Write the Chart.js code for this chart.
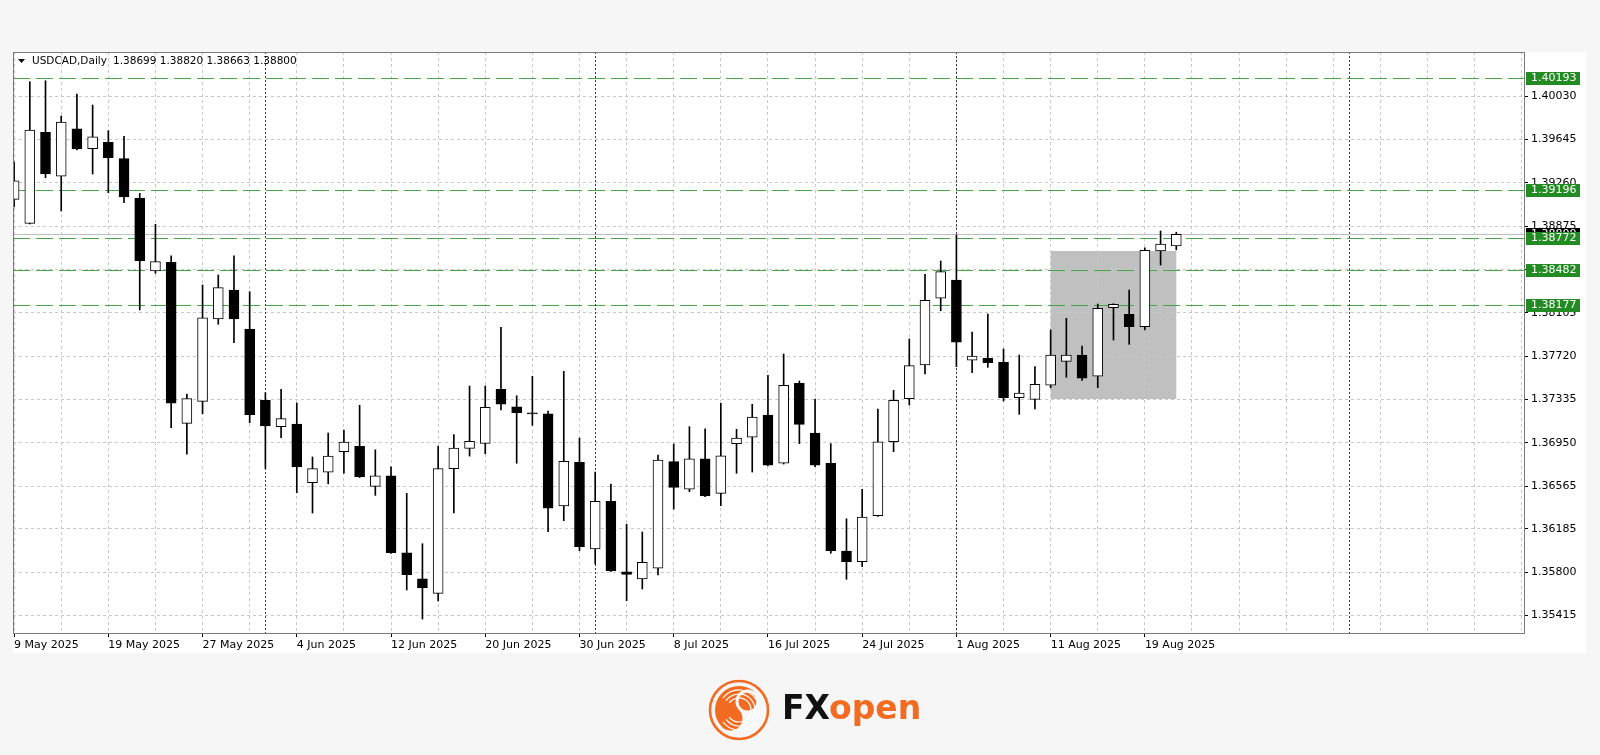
<!DOCTYPE html>
<html><head><meta charset="utf-8">
<script src="https://cdn.jsdelivr.net/npm/chart.js@4.4.1/dist/chart.umd.min.js"></script>
<style>html,body{margin:0;padding:0;background:#f6f6f6;}canvas{display:block}</style>
</head><body>
<canvas id="c" width="1600" height="755"></canvas>
<script>
const symbol = 'USDCAD,Daily';
const opens  = [1.39112,1.38899,1.39707,1.39317,1.39739,1.39562,1.39619,1.39473,1.39124,1.38475,
                1.38552,1.37122,1.37317,1.38049,1.38306,1.37960,1.37326,1.37092,1.37116,1.36594,
                1.36687,1.36870,1.36918,1.36562,1.36656,1.35972,1.35741,1.35611,1.36719,1.36900,
                1.36944,1.37424,1.37269,1.37212,1.37207,1.36387,1.36776,1.36005,1.36429,1.35803,
                1.35739,1.35834,1.36781,1.36536,1.36807,1.36500,1.36941,1.36998,1.37196,1.36767,
                1.37477,1.37036,1.36767,1.35987,1.35892,1.36301,1.36958,1.37341,1.37640,1.38233,
                1.38395,1.37682,1.37699,1.37664,1.37349,1.37335,1.37460,1.37673,1.37729,1.37540,
                1.38149,1.38090,1.37980,1.38653,1.38699];
const highs  = [1.39444,1.40157,1.40166,1.39852,1.40048,1.39950,1.39722,1.39672,1.39165,1.38890,
                1.38611,1.37382,1.38351,1.38440,1.38611,1.38291,1.37394,1.37424,1.37302,1.36823,
                1.37036,1.37062,1.37282,1.36887,1.36736,1.36500,1.36052,1.36920,1.37021,1.37453,
                1.37453,1.37975,1.37367,1.37540,1.37231,1.37584,1.36991,1.36689,1.36583,1.36225,
                1.36156,1.36840,1.36938,1.37092,1.37074,1.37300,1.37069,1.37291,1.37548,1.37738,
                1.37498,1.37338,1.36941,1.36274,1.36536,1.37249,1.37415,1.37871,1.38446,1.38564,
                1.38795,1.37933,1.38093,1.37782,1.37729,1.37627,1.37951,1.38055,1.37809,1.38182,
                1.38185,1.38306,1.38682,1.38831,1.38820];
const lows   = [1.39046,1.38893,1.39304,1.39008,1.39550,1.39337,1.39171,1.39082,1.38129,1.38455,
                1.37083,1.36847,1.37207,1.38002,1.37838,1.37127,1.36722,1.36994,1.36505,1.36325,
                1.36585,1.36678,1.36640,1.36482,1.35965,1.35641,1.35383,1.35543,1.36325,1.36831,
                1.36852,1.37240,1.36767,1.37104,1.36159,1.36257,1.35990,1.35872,1.35805,1.35546,
                1.35650,1.35774,1.36360,1.36514,1.36470,1.36390,1.36678,1.36689,1.36745,1.36760,
                1.36941,1.36736,1.35967,1.35736,1.35848,1.36295,1.36870,1.37285,1.37560,1.38122,
                1.37625,1.37572,1.37619,1.37320,1.37202,1.37249,1.37438,1.37531,1.37504,1.37438,
                1.37862,1.37824,1.37951,1.38528,1.38663];
const closes = [1.39277,1.39728,1.39337,1.39799,1.39559,1.39668,1.39482,1.39133,1.38567,1.38558,
                1.37302,1.37341,1.38060,1.38327,1.38049,1.37198,1.37098,1.37163,1.36734,1.36719,
                1.36831,1.36956,1.36648,1.36656,1.35972,1.35777,1.35659,1.36719,1.36903,1.36962,
                1.37264,1.37293,1.37216,1.37206,1.36367,1.36784,1.36026,1.36429,1.35812,1.35780,
                1.35887,1.36796,1.36553,1.36807,1.36476,1.36834,1.36991,1.37178,1.36751,1.37460,
                1.37113,1.36751,1.35990,1.35892,1.36289,1.36958,1.37326,1.37634,1.38215,1.38469,
                1.37844,1.37720,1.37660,1.37349,1.37391,1.37468,1.37729,1.37729,1.37522,1.38144,
                1.38179,1.37980,1.38659,1.38715,1.38800];
const dateLabels = ['9 May 2025','19 May 2025','27 May 2025','4 Jun 2025','12 Jun 2025','20 Jun 2025',
                    '30 Jun 2025','8 Jul 2025','16 Jul 2025','24 Jul 2025','1 Aug 2025','11 Aug 2025','19 Aug 2025'];
const dateLabelStep = 6;
const gridStep = 3;
const priceTicks = [1.35415,1.35800,1.36185,1.36565,1.36950,1.37335,1.37720,1.38105,1.38490,1.38875,1.39260,1.39645,1.40030];
const levels = [1.40193,1.39196,1.38772,1.38482,1.38177];
const currentPrice = 1.38800;
const monthStarts = [16,37,60,85];
const boxZone = {from:66, to:74, high:1.38653, low:1.37338};
const yMin = 1.35259, yMax = 1.40421;
const xMin = -0.07, xMax = 96.14;

const FONT = "'DejaVu Sans', Verdana, sans-serif";
const idx = opens.map((_, i) => i);

function hline(ctx, x1, x2, y){ctx.beginPath();ctx.moveTo(x1,y);ctx.lineTo(x2,y);ctx.stroke();}
function vline(ctx, x, y1, y2){ctx.beginPath();ctx.moveTo(x,y1);ctx.lineTo(x,y2);ctx.stroke();}

function drawLogo(ctx){
  const orange = '#f26b21';
  const cx = 739, cy = 710, R = 29;
  ctx.save();
  ctx.strokeStyle = orange; ctx.lineWidth = 2.6;
  ctx.beginPath(); ctx.arc(cx, cy, R, 0, Math.PI*2); ctx.stroke();
  const r = R - 5, a = -Math.PI/4;
  const dx = Math.cos(a), dy = Math.sin(a);
  ctx.fillStyle = orange;
  ctx.beginPath();
  ctx.arc(cx, cy, r, a, a - Math.PI, true);
  ctx.arc(cx - dx*r/2, cy - dy*r/2, r/2, a - Math.PI, a, true);
  ctx.arc(cx + dx*r/2, cy + dy*r/2, r/2, a - Math.PI, a, false);
  ctx.closePath(); ctx.fill();
  ctx.beginPath(); ctx.arc(cx + dx*r/2, cy + dy*r/2, r/2 - 3, 0, Math.PI*2); ctx.fill();
  ctx.beginPath(); ctx.arc(cx - dx*r*0.55, cy - dy*r*0.55, r*0.32, 0, Math.PI*2); ctx.fill();
  ctx.strokeStyle = '#fff'; ctx.lineWidth = 1.2;
  for (let k = 0; k < 3; k++){
    ctx.beginPath(); ctx.arc(cx, cy, r - 4 - k*4, a - Math.PI*0.95, a - Math.PI*0.55, true); ctx.stroke();
  }
  ctx.font = "bold 33px " + FONT; ctx.textBaseline = 'alphabetic'; ctx.textAlign = 'left';
  ctx.fillStyle = '#111';
  ctx.fillText('FX', 782, 719);
  const w = ctx.measureText('FX').width;
  ctx.fillStyle = orange;
  ctx.fillText('open', 782 + w - 1, 719);
  ctx.restore();
}

const decor = {
  id: 'decor',
  beforeDraw(chart){
    const {ctx, chartArea: a, scales: {x, y}} = chart;
    ctx.save();
    ctx.fillStyle = '#ffffff';
    ctx.fillRect(a.left, a.top, 1586 - a.left, 653 - a.top);
    const x1 = x.getPixelForValue(boxZone.from), x2 = x.getPixelForValue(boxZone.to);
    const y1 = y.getPixelForValue(boxZone.high), y2 = y.getPixelForValue(boxZone.low);
    ctx.fillStyle = '#c0c0c0';
    ctx.fillRect(x1, y1, x2 - x1, y2 - y1);
    ctx.restore();
  },
  beforeDatasetsDraw(chart){
    const {ctx, chartArea: a, scales: {x, y}} = chart;
    ctx.save();
    ctx.beginPath(); ctx.rect(a.left, a.top, a.right - a.left, a.bottom - a.top); ctx.clip();
    ctx.lineWidth = 1;
    ctx.strokeStyle = '#c0c0c0'; ctx.setLineDash([]);
    hline(ctx, a.left, a.right, Math.round(y.getPixelForValue(currentPrice)) + 0.5);
    ctx.strokeStyle = 'rgb(70,165,70)'; ctx.setLineDash([17,6]);
    levels.forEach(v => hline(ctx, a.left, a.right, Math.round(y.getPixelForValue(v)) + 0.5));
    ctx.strokeStyle = 'rgba(40,40,40,0.9)'; ctx.setLineDash([2,2]);
    monthStarts.forEach(i => vline(ctx, Math.round(x.getPixelForValue(i)) + 0.5, a.top, a.bottom));
    ctx.restore();
  },
  afterDraw(chart){
    const {ctx, chartArea: a, scales: {y}} = chart;
    ctx.save();
    ctx.strokeStyle = '#7a7a7a'; ctx.lineWidth = 1; ctx.setLineDash([]);
    ctx.strokeRect(a.left + 0.5, a.top + 0.5, a.right - a.left, a.bottom - a.top);
    ctx.font = '11px ' + FONT; ctx.textBaseline = 'middle'; ctx.textAlign = 'left';
    const tag = (v, bg) => {
      const py = Math.round(y.getPixelForValue(v));
      ctx.fillStyle = bg; ctx.fillRect(a.right + 2, py - 6, 54, 13);
      ctx.fillStyle = '#fff'; ctx.fillText(v.toFixed(5), a.right + 7, py + 0.5);
    };
    tag(currentPrice, '#000');
    levels.forEach(v => tag(v, '#228b22'));
    ctx.fillStyle = '#000';
    ctx.beginPath(); ctx.moveTo(18, 59); ctx.lineTo(25, 59); ctx.lineTo(21.5, 63); ctx.closePath(); ctx.fill();
    ctx.font = '10.5px ' + FONT;
    const n = opens.length - 1;
    ctx.fillText(symbol, 32, 61);
    ctx.fillText([opens[n], highs[n], lows[n], closes[n]].map(v => v.toFixed(5)).join(' '), 113, 61);
    ctx.restore();
    drawLogo(ctx);
  }
};

new Chart(document.getElementById('c'), {
  type: 'bar',
  data: {
    datasets: [
      {
        label: 'wick',
        data: idx.map(i => ({x: i, y: [lows[i], highs[i]]})),
        backgroundColor: '#000', borderWidth: 0,
        barThickness: 1, grouped: false, order: 2
      },
      {
        label: 'body',
        data: idx.map(i => ({x: i, y: [opens[i], closes[i]]})),
        backgroundColor: c => closes[c.dataIndex] >= opens[c.dataIndex] ? '#ffffff' : '#000000',
        borderColor: '#000', borderWidth: 1, borderSkipped: false,
        barThickness: 10, minBarLength: 1, grouped: false, order: 1
      }
    ]
  },
  options: {
    responsive: false, animation: false, devicePixelRatio: 1,
    layout: {padding: {left: 13, top: 52, right: 14, bottom: 102}},
    plugins: {legend: {display: false}, tooltip: {enabled: false}},
    scales: {
      x: {
        type: 'linear', min: xMin, max: xMax, offset: false,
        afterFit: s => { s.height = 20; },
        afterBuildTicks: s => { const t = []; for (let v = 0; v <= xMax; v += gridStep) t.push({value: v}); s.ticks = t; },
        grid: {offset: false, color: 'rgb(200,200,200)', lineWidth: 1, tickLength: 4,
               tickColor: c => (c.tick && c.tick.value % dateLabelStep === 0 && c.tick.value / dateLabelStep < dateLabels.length) ? '#000' : 'rgba(0,0,0,0)'},
        border: {display: false, dash: [3,3]},
        ticks: {autoSkip: false, maxRotation: 0, minRotation: 0, align: 'start', padding: 2,
                color: '#000', font: {family: FONT, size: 11},
                callback: v => (v % dateLabelStep === 0 && v / dateLabelStep < dateLabels.length) ? dateLabels[v / dateLabelStep] : ''}
      },
      y: {
        type: 'linear', position: 'right', min: yMin, max: yMax, beginAtZero: false,
        afterFit: s => { s.width = 62; },
        afterBuildTicks: s => { s.ticks = priceTicks.map(v => ({value: v})); },
        grid: {color: 'rgb(200,200,200)', lineWidth: 1, tickLength: 4, tickColor: '#000'},
        border: {display: false, dash: [3,3]},
        ticks: {padding: 3, color: '#000', font: {family: FONT, size: 11}, callback: v => v.toFixed(5)}
      }
    }
  },
  plugins: [decor]
});
</script>
</body></html>
